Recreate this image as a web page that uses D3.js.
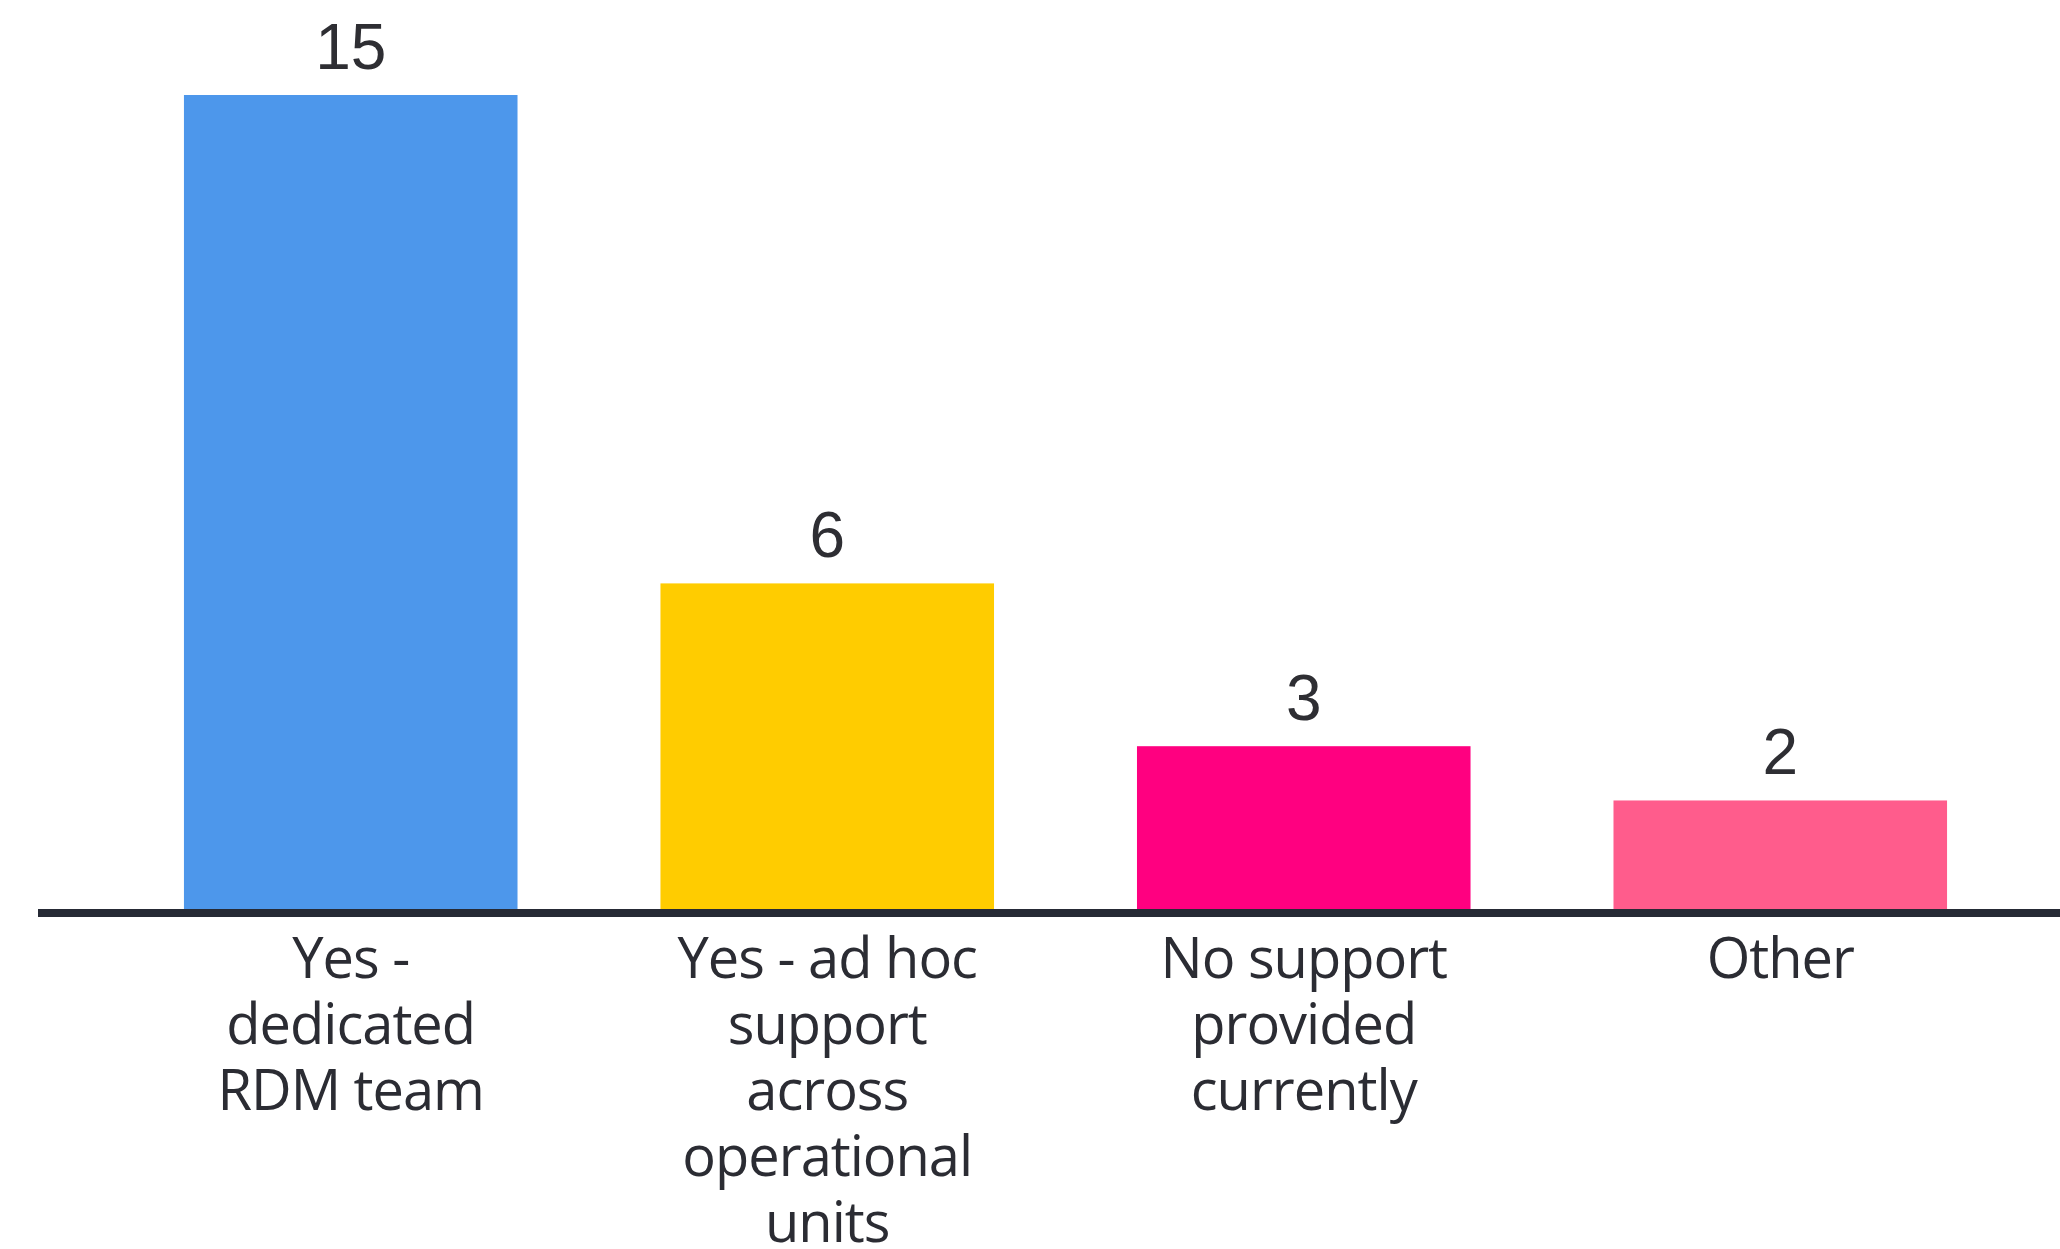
<!DOCTYPE html>
<html>
<head>
<meta charset="utf-8">
<script src="https://cdn.jsdelivr.net/npm/d3@7"></script>
<style>
  html, body { margin: 0; padding: 0; background: #fff; }
  svg { display: block; }
</style>
</head>
<body>
<div id="chart"></div>
<script>
// categories (label lines as wrapped in the original)
const categories = [
  ["Yes -", "dedicated", "RDM team"],
  ["Yes - ad hoc", "support", "across", "operational", "units"],
  ["No support", "provided", "currently"],
  ["Other"]
];
const values = [15, 6, 3, 2];
const barColors = ["#4d97eb", "#ffcc00", "#ff0080", "#ff5c8c"];

const canvasWidth = 2060;
const canvasHeight = 1249;
const baseY = 909;
const topY = 95;

const svg = d3
  .select("#chart")
  .append("svg")
  .attr("width", canvasWidth)
  .attr("height", canvasHeight);

const x = d3
  .scaleBand()
  .domain(d3.range(values.length))
  .range([41, 2090])
  .paddingInner(0.3)
  .paddingOuter(0.3);

const y = d3.scaleLinear().domain([0, 15]).range([baseY, topY]);

// bars
svg
  .selectAll(".bar")
  .data(values)
  .join("rect")
  .attr("class", "bar")
  .attr("x", (d, i) => x(i))
  .attr("y", (d) => y(d))
  .attr("width", x.bandwidth())
  .attr("height", (d) => y(0) - y(d))
  .attr("fill", (d, i) => barColors[i]);

// value labels
svg
  .selectAll(".value")
  .data(values)
  .join("text")
  .attr("class", "value")
  .attr("x", (d, i) => x(i) + x.bandwidth() / 2)
  .attr("y", (d) => y(d) - 26)
  .attr("text-anchor", "middle")
  .attr("font-family", "Liberation Sans, Arial, sans-serif")
  .attr("font-size", 64)
  .attr("fill", "#2e2e33")
  .text((d) => d);

// baseline axis (no ticks)
const axis = svg
  .append("g")
  .attr("transform", `translate(0,${baseY + 4})`)
  .call(d3.axisBottom(x).tickSize(0).tickFormat(""));
axis.select(".domain").remove();
axis
  .append("line")
  .attr("x1", 38)
  .attr("x2", canvasWidth)
  .attr("stroke", "#262a35")
  .attr("stroke-width", 8);

// category labels, one tspan per line
const labels = svg
  .selectAll(".cat")
  .data(categories)
  .join("text")
  .attr("class", "cat")
  .attr("text-anchor", "middle")
  .attr("font-family", "Open Sans, sans-serif")
  .attr("font-size", 56)
  .attr("fill", "#2b2c33")
  .attr("letter-spacing", -1);

labels
  .selectAll("tspan")
  .data((d, i) => d.map((line) => ({ line, i })))
  .join("tspan")
  .attr("x", (d) => x(d.i) + x.bandwidth() / 2)
  .attr("y", (d, j) => 978 + j * 66)
  .text((d) => d.line);
</script>
</body>
</html>
